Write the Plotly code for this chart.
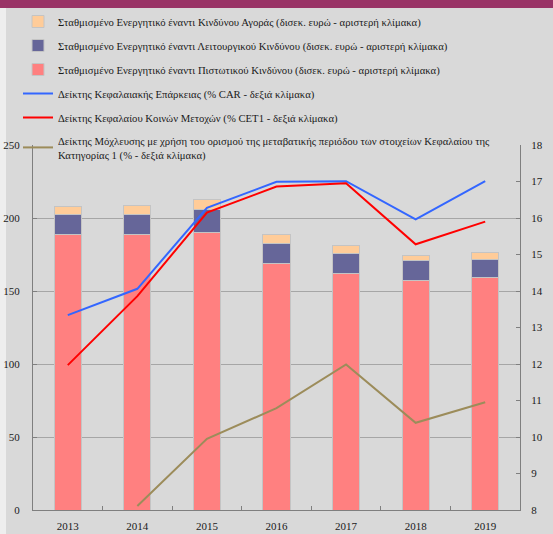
import plotly.graph_objects as go

years = ["2013", "2014", "2015", "2016", "2017", "2018", "2019"]
credit_rwa = [188.4, 188.8, 190.2, 168.5, 161.8, 157.5, 159.2]
operational_rwa = [13.9, 13.9, 15.3, 13.7, 13.8, 13.3, 12.6]
market_rwa = [5.4, 5.7, 7.3, 6.8, 5.7, 3.8, 4.3]
car = [13.34, 14.06, 16.28, 16.99, 17.01, 15.96, 17.01]
cet1 = [11.97, 13.86, 16.15, 16.86, 16.95, 15.28, 15.90]
leverage = [None, 8.11, 9.95, 10.79, 11.99, 10.39, 10.95]

names = [
    "Σταθμισμένο Ενεργητικό έναντι Κινδύνου Αγοράς (δισεκ. ευρώ - αριστερή κλίμακα)",
    "Σταθμισμένο Ενεργητικό έναντι Λειτουργικού Κινδύνου (δισεκ. ευρώ - αριστερή κλίμακα)",
    "Σταθμισμένο Ενεργητικό έναντι Πιστωτικού Κινδύνου (δισεκ. ευρώ - αριστερή κλίμακα)",
    "Δείκτης Κεφαλαιακής Επάρκειας (% CAR - δεξιά κλίμακα)",
    "Δείκτης Κεφαλαίου Κοινών Μετοχών (% CET1 - δεξιά κλίμακα)",
    "Δείκτης Μόχλευσης με χρήση του ορισμού της μεταβατικής περιόδου των στοιχείων Κεφαλαίου της<br>Κατηγορίας 1 (% - δεξιά κλίμακα)",
]

FONT = "Liberation Serif"
FS = 10.7
bar_line = dict(color="#C4C4C4", width=1)

fig = go.Figure()
fig.add_trace(go.Bar(x=years, y=credit_rwa, name=names[2], marker=dict(color="#FF8080", line=bar_line),
                     legendrank=3, legendgroup="c"))
fig.add_trace(go.Bar(x=years, y=operational_rwa, name=names[1], marker=dict(color="#666699", line=bar_line),
                     legendrank=2, legendgroup="b"))
fig.add_trace(go.Bar(x=years, y=market_rwa, name=names[0], marker=dict(color="#FFCC99", line=bar_line),
                     legendrank=1, legendgroup="a"))
fig.add_trace(go.Scatter(x=years, y=car, name=names[3], yaxis="y2", mode="lines",
                         line=dict(color="#3366FF", width=2), legendrank=4, legendgroup="d"))
fig.add_trace(go.Scatter(x=years, y=cet1, name=names[4], yaxis="y2", mode="lines",
                         line=dict(color="#FF0000", width=2), legendrank=5, legendgroup="e"))
fig.add_trace(go.Scatter(x=years, y=leverage, name=names[5], yaxis="y2", mode="lines",
                         line=dict(color="#9C8C5A", width=2), legendrank=6, legendgroup="f"))

W, H = 553, 534
L, R, T, B = 33, 520, 145, 510
pw, ph = R - L, B - T

def px(xp):
    return (xp - L) / pw

def py(yp):
    return (B - yp) / ph

fig.update_layout(
    width=W, height=H,
    margin=dict(l=L, r=W - R, t=T, b=H - B, autoexpand=False),
    barmode="stack", bargap=0.61,
    paper_bgcolor="#D9D9D9", plot_bgcolor="#D9D9D9",
    font=dict(family=FONT, size=FS, color="#1a1a1a"),
    showlegend=True,
    legend=dict(x=px(18), y=py(7), xanchor="left", yanchor="top",
                bgcolor="rgba(0,0,0,0)", font=dict(family=FONT, size=FS, color="#1a1a1a"),
                traceorder="grouped", tracegroupgap=5, itemwidth=30),
    xaxis=dict(type="category", showline=True, linecolor="#7F7F7F", linewidth=1,
               ticks="inside", tickson="boundaries", ticklen=4, tickcolor="#7F7F7F",
               showgrid=False, tickfont=dict(family=FONT, size=11), ticklabelstandoff=6),
    yaxis=dict(range=[0, 250], dtick=50, showline=True, linecolor="#7F7F7F", linewidth=1,
               ticks="inside", ticklen=4, tickcolor="#7F7F7F", showgrid=True, gridcolor="#A6A6A6",
               gridwidth=1, zeroline=False, tickfont=dict(family=FONT, size=11), ticklabelstandoff=10),
    yaxis2=dict(range=[8, 18], dtick=1, overlaying="y", side="right", showline=True,
                linecolor="#7F7F7F", linewidth=1, ticks="inside", ticklen=4, tickcolor="#7F7F7F",
                showgrid=False, zeroline=False, tickfont=dict(family=FONT, size=11), ticklabelstandoff=8),
    shapes=[
        dict(type="rect", xref="paper", yref="paper", x0=px(0), x1=px(W), y0=py(8), y1=py(0),
             fillcolor="#993366", line=dict(width=0), layer="below"),
        dict(type="rect", xref="paper", yref="paper", x0=px(0), x1=px(6), y0=py(H), y1=py(8),
             fillcolor="#EEEEEE", line=dict(width=0), layer="below"),
    ],
)

fig.write_html("out.html", config={"displayModeBar": False},
               post_script="document.body.style.margin='0';document.body.style.padding='0';")
